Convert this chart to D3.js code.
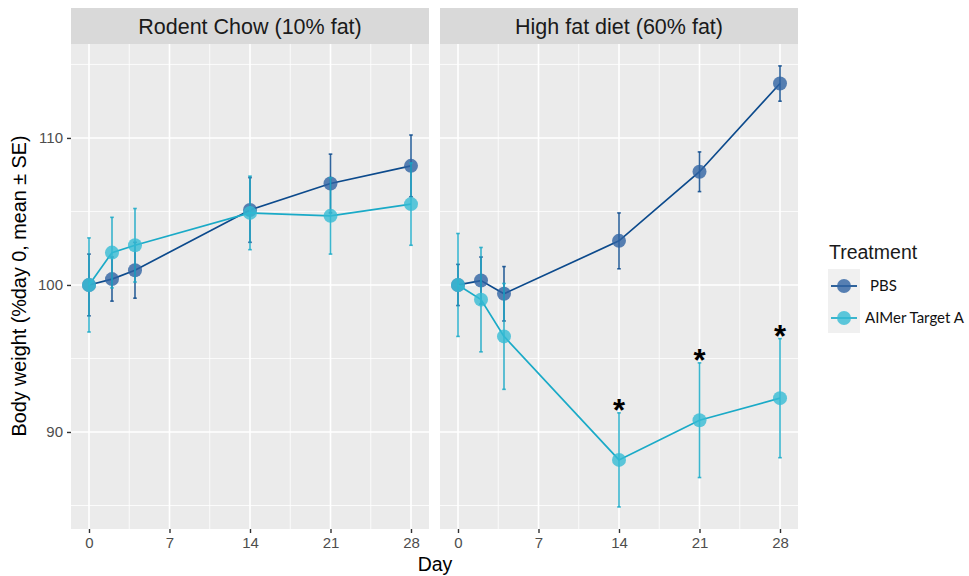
<!DOCTYPE html>
<html>
<head>
<meta charset="utf-8">
<script src="https://cdn.jsdelivr.net/npm/d3@7/dist/d3.min.js"></script>
<style>
  body { margin: 0; background: #fff; }
  svg { display: block; font-family: "Liberation Sans", Arial, sans-serif; }
</style>
</head>
<body>
<svg id="chart" width="969" height="576"></svg>
<script>
// Study days and diet panels
const days = [0, 2, 4, 14, 21, 28];
const diets = ["Rodent Chow (10% fat)", "High fat diet (60% fat)"];
const treatments = ["PBS", "AIMer Target A"];
const xTicks = [0, 7, 14, 21, 28];
const yTicks = [90, 100, 110];

// Mean body weight (% of day 0) and SE, per diet
const chowPBS      = [100, 100.4, 101.0, 105.1, 106.9, 108.1];
const chowPBSse    = [2.1, 1.5, 1.9, 2.2, 2.0, 2.1];
const chowAIMer    = [100, 102.2, 102.7, 104.9, 104.7, 105.5];
const chowAIMerSe  = [3.2, 2.4, 2.5, 2.5, 2.6, 2.8];
const hfdPBS       = [100, 100.3, 99.4, 103.0, 107.7, 113.7];
const hfdPBSse     = [1.4, 1.6, 1.85, 1.9, 1.35, 1.2];
const hfdAIMer     = [100, 99.0, 96.5, 88.1, 90.8, 92.3];
const hfdAIMerSe   = [3.5, 3.55, 3.6, 3.2, 3.9, 4.05];
// Significance marks (High fat diet, AIMer vs PBS)
const sigDays = [14, 21, 28];

const colors = { "PBS": "#0c4a8c", "AIMer Target A": "#1aaac7" };
const fills  = { "PBS": "#2f63a3", "AIMer Target A": "#36bcd4" };

const panels = [
  { title: diets[0], series: [
      { name: treatments[0], mean: chowPBS, se: chowPBSse },
      { name: treatments[1], mean: chowAIMer, se: chowAIMerSe } ], sig: [] },
  { title: diets[1], series: [
      { name: treatments[0], mean: hfdPBS, se: hfdPBSse },
      { name: treatments[1], mean: hfdAIMer, se: hfdAIMerSe } ], sig: sigDays }
];

const svg = d3.select("#chart");
const panelLeft = [71, 440];
const panelW = 358;
const stripTop = 8, stripH = 36;
const plotTop = 44, plotBottom = 529;

const y = d3.scaleLinear().domain([83.4, 116.39]).range([plotBottom, plotTop]);

panels.forEach((p, pi) => {
  const x0 = panelLeft[pi];
  const x = d3.scaleLinear().domain([-1.565, 29.565]).range([x0, x0 + panelW]);
  const g = svg.append("g");

  // strip
  g.append("rect").attr("x", x0).attr("y", stripTop).attr("width", panelW).attr("height", stripH)
    .attr("fill", "#d9d9d9");
  g.append("text").attr("x", x0 + panelW / 2).attr("y", stripTop + stripH / 2 + 7.5)
    .attr("text-anchor", "middle").attr("font-size", 21.5).attr("fill", "#1a1a1a").text(p.title);

  // panel background
  g.append("rect").attr("x", x0).attr("y", plotTop).attr("width", panelW).attr("height", plotBottom - plotTop)
    .attr("fill", "#ebebeb");

  // minor grid
  const xMinor = d3.range(-3.5, 31.6, 7).filter(d => d > x.domain()[0] && d < x.domain()[1]);
  const yMinor = [85, 95, 105, 115];
  g.selectAll(".xm").data(xMinor).join("line")
    .attr("x1", d => x(d)).attr("x2", d => x(d)).attr("y1", plotTop).attr("y2", plotBottom)
    .attr("stroke", "#fff").attr("stroke-width", 0.8);
  g.selectAll(".ym").data(yMinor).join("line")
    .attr("x1", x0).attr("x2", x0 + panelW).attr("y1", d => y(d)).attr("y2", d => y(d))
    .attr("stroke", "#fff").attr("stroke-width", 0.8);
  // major grid
  g.selectAll(".xM").data(xTicks).join("line")
    .attr("x1", d => x(d)).attr("x2", d => x(d)).attr("y1", plotTop).attr("y2", plotBottom)
    .attr("stroke", "#fff").attr("stroke-width", 1.6);
  g.selectAll(".yM").data(yTicks).join("line")
    .attr("x1", x0).attr("x2", x0 + panelW).attr("y1", d => y(d)).attr("y2", d => y(d))
    .attr("stroke", "#fff").attr("stroke-width", 1.6);

  // x axis
  const xa = g.append("g").attr("transform", `translate(0,${plotBottom})`)
    .call(d3.axisBottom(x).tickValues(xTicks).tickSize(4).tickPadding(4));
  xa.select(".domain").remove();
  xa.selectAll("line").attr("stroke", "#333").attr("stroke-width", 1.4);
  xa.selectAll("text").attr("fill", "#4d4d4d").attr("font-size", 15).attr("font-family", "Liberation Sans, Arial, sans-serif");

  if (pi === 0) {
    const ya = g.append("g").attr("transform", `translate(${x0},0)`)
      .call(d3.axisLeft(y).tickValues(yTicks).tickSize(4).tickPadding(4));
    ya.select(".domain").remove();
    ya.selectAll("line").attr("stroke", "#333").attr("stroke-width", 1.4);
    ya.selectAll("text").attr("fill", "#4d4d4d").attr("font-size", 15).attr("font-family", "Liberation Sans, Arial, sans-serif");
  }

  const line = d3.line().x((d, i) => x(days[i])).y(d => y(d));

  p.series.forEach(s => {
    const c = colors[s.name];
    const sg = g.append("g");
    // error bars
    days.forEach((d, i) => {
      const top = y(s.mean[i] + s.se[i]), bot = y(s.mean[i] - s.se[i]);
      sg.append("line").attr("x1", x(d)).attr("x2", x(d)).attr("y1", top).attr("y2", bot)
        .attr("stroke", c).attr("stroke-width", 1.6).attr("opacity", 0.85);
      [top, bot].forEach(v => sg.append("line").attr("x1", x(d) - 1.8).attr("x2", x(d) + 1.8)
        .attr("y1", v).attr("y2", v).attr("stroke", c).attr("stroke-width", 1.6).attr("opacity", 0.85));
    });
    sg.append("path").datum(s.mean).attr("d", line).attr("fill", "none")
      .attr("stroke", c).attr("stroke-width", 1.7);
    sg.selectAll("circle").data(s.mean).join("circle")
      .attr("cx", (d, i) => x(days[i])).attr("cy", d => y(d)).attr("r", 7)
      .attr("fill", fills[s.name]).attr("fill-opacity", 0.8);
  });

  // significance asterisks above the AIMer error bars
  const aim = p.series[1];
  p.sig.forEach(d => {
    const i = days.indexOf(d);
    g.append("text").attr("x", x(d)).attr("y", y(aim.mean[i] + aim.se[i]) + 8)
      .attr("text-anchor", "middle").attr("font-size", 31).attr("font-weight", "bold")
      .attr("fill", "#000").text("*");
  });
});

// axis titles
svg.append("text").attr("x", 435).attr("y", 571).attr("text-anchor", "middle")
  .attr("font-size", 19.5).attr("fill", "#000").text("Day");
svg.append("text").attr("transform", "translate(26,286) rotate(-90)").attr("text-anchor", "middle")
  .attr("font-size", 19.8).attr("fill", "#000").text("Body weight (%day 0, mean ± SE)");

// legend
const lg = svg.append("g").attr("transform", "translate(828,0)");
lg.append("text").attr("x", 1).attr("y", 259).attr("font-size", 19.5).attr("fill", "#1a1a1a").text("Treatment");
lg.append("rect").attr("x", 0).attr("y", 269).attr("width", 32).attr("height", 64).attr("fill", "#f0f0f0");
treatments.forEach((t, i) => {
  const cy = 286 + i * 32;
  lg.append("line").attr("x1", 3).attr("x2", 29).attr("y1", cy).attr("y2", cy)
    .attr("stroke", colors[t]).attr("stroke-width", 1.7);
  lg.append("circle").attr("cx", 16).attr("cy", cy).attr("r", 7)
    .attr("fill", fills[t]).attr("fill-opacity", 0.8);
  lg.append("text").attr("x", i === 0 ? 42 : 37).attr("y", cy + 5).attr("font-size", 15)
    .attr("font-family", "Lato, sans-serif").attr("fill", "#111").text(t);
});
</script>
</body>
</html>
